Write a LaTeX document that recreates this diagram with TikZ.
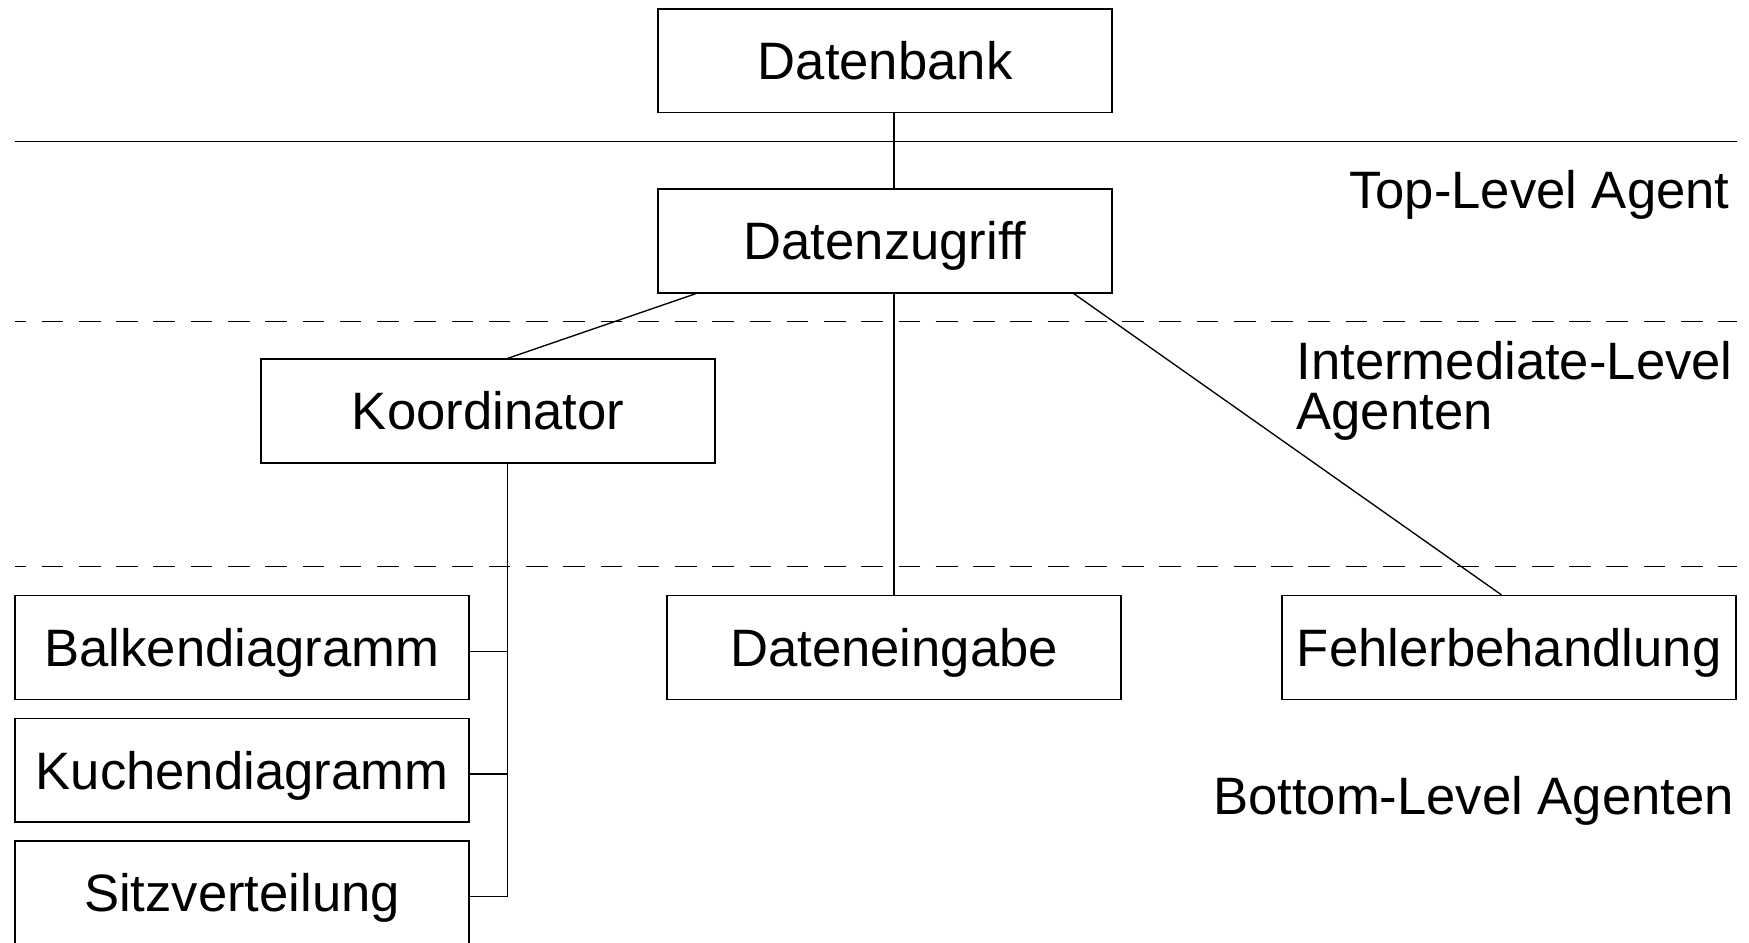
\documentclass[tikz,border=0pt]{standalone}
\usepackage{fontspec}
\setmainfont{Liberation Sans}
\usetikzlibrary{calc}
\begin{document}
\begin{tikzpicture}[x=0.5pt,y=-0.5pt,
  agent/.style={draw, line width=0.7pt, minimum width=203.5pt, minimum height=46.5pt,
    inner sep=0pt, text height=16.9pt, text depth=0pt,
    font=\fontsize{23.6}{23.6}\selectfont},
  level/.style={inner sep=0pt, font=\fontsize{23.6}{22.4}\selectfont},
  link/.style={line width=0.6pt},
  divider/.style={line width=0.6pt},
  layer/.style={line width=0.6pt, dash pattern=on 9.7pt off 7pt, dash phase=4.5pt}]
\useasboundingbox (0,0) rectangle (1568,845);
\clip (0,0) rectangle (1568,845);

% level separators
\draw[divider] (13,127) -- (1557,127);
\draw[layer] (13,288) -- (1557,288);
\draw[layer] (13,508) -- (1557,508);

% agents
\node[agent] (db) at (793.5,54.5) {Datenbank};
\node[agent] (dz) at (793.5,216) {Datenzugriff};
\node[agent] (ko) at (437.5,368.5) {Koordinator};
\node[agent] (ba) at (217,580.5) {Balkendiagramm};
\node[agent] (ku) at (217,690.5) {Kuchendiagramm};
\node[agent] (si) at (217,800.5) {Sitzverteilung};
\node[agent] (de) at (801.5,580.5) {Dateneingabe};
\node[agent] (fe) at (1353,580.5) {Fehlerbehandlung};

% level labels
\node[level, anchor=base east] (lt) at (1551,187) {Top-Level Agent};
\node[level, anchor=north west, align=left] (li) at (1162,306) {Intermediate-Level\\Agenten};
\node[level, anchor=base east] (lb) at (1555,730) {Bottom-Level Agenten};

% connectors
\draw[link] (db.south -| de.north) -- (dz.north -| de.north);
\draw[link] (dz.south -| de.north) -- (de.north);
\draw[link] ($(dz.south west)!0.085!(dz.south east)$) -- ($(ko.north west)!0.543!(ko.north east)$);
\draw[link] ($(dz.south west)!0.914!(dz.south east)$) -- ($(fe.north west)!0.483!(fe.north east)$);

\coordinate (trunk) at ($(ko.south west)!0.543!(ko.south east)$);
\draw[link] (trunk) |- ([yshift=-1.75pt]si.east);
\draw[link] ([yshift=-1.75pt]ba.east) -- ([yshift=-1.75pt]ba.east -| trunk);
\draw[link] ([yshift=-1.75pt]ku.east) -- ([yshift=-1.75pt]ku.east -| trunk);
\end{tikzpicture}
\end{document}
